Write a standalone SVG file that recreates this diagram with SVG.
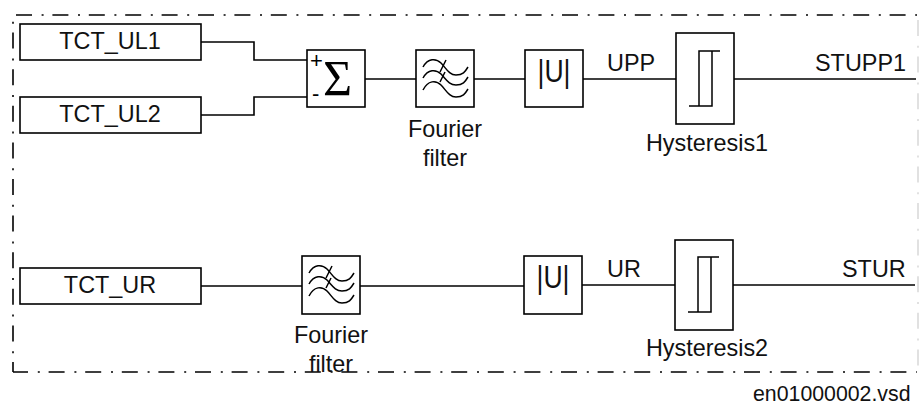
<svg xmlns="http://www.w3.org/2000/svg" width="919" height="406" viewBox="0 0 919 406">
<defs>
<style>
.b{fill:#fff;stroke:#000;stroke-width:1.6}
.w{fill:none;stroke:#000;stroke-width:1.6}
.g{fill:none;stroke:#000;stroke-width:1.5}
.d{fill:none;stroke:#000;stroke-width:1.6;stroke-dasharray:16 9.8 2 8.8}
text{font-family:"Liberation Sans",Arial,sans-serif;font-size:23.4px;fill:#111}
.m{text-anchor:middle}
</style>
<g id="filterGlyph">
<path class="g" d="M7 17C12 8 20 8 25 13S33 25 40 25S49 22 52 17"/>
<path class="g" d="M7 28C12 19 20 19 25 24S33 35 40 35S49 32 52 27"/>
<path class="g" d="M7 40C12 30 20 30 25 35S33 47 40 47S49 44 52 39"/>
<path class="g" d="M30 10L24 22M29 22L24 32"/>
</g>
<g id="hystGlyph">
<path class="g" d="M13 73H36V18M23 73V18H44"/>
</g>
</defs>
<g id="frame">
<path class="d" d="M16 15H917" style="stroke-dasharray:16 9.6 2 8.8"/>
<path class="d" d="M13 15V372" stroke-dashoffset="19"/>
<path class="d" d="M13 372H917" stroke-dashoffset="1"/>
<path d="M918 20V370" fill="none" stroke="#d8d8d8" stroke-width="1.5" stroke-dasharray="16 9.8 2 8.8"/>
</g>
<g id="connectors">
<path class="w" d="M201 42H254V60H307"/>
<path class="w" d="M201 115H254V97H307"/>
<path class="w" d="M365 79H416"/>
<path class="w" d="M474 79H525"/>
<path class="w" d="M583 79H676"/>
<path class="w" d="M734 79H916"/>
<path class="w" d="M201 286H302"/>
<path class="w" d="M360 286H524"/>
<path class="w" d="M582 285H675"/>
<path class="w" d="M733 285H915"/>
</g>
<g id="tct_ul1"><rect class="b" x="20" y="24" width="181" height="36"/><text class="m" x="110" y="49">TCT_UL1</text></g>
<g id="tct_ul2"><rect class="b" x="20" y="97" width="181" height="36"/><text class="m" x="110" y="122">TCT_UL2</text></g>
<g id="tct_ur"><rect class="b" x="20" y="268" width="181" height="36"/><text class="m" x="110" y="293">TCT_UR</text></g>
<g id="sum"><rect class="b" x="307" y="50" width="58" height="57"/>
<text x="310" y="68" style="font-size:22px;fill:#000">+</text>
<text x="312" y="101" style="font-size:22px;fill:#000">-</text>
<text x="323" y="95" style="font-family:'Liberation Serif',serif;font-size:50px;fill:#000">Σ</text></g>
<g id="filter1"><rect class="b" x="416" y="50" width="58" height="57"/><use href="#filterGlyph" x="416" y="50"/>
<text class="m" x="445" y="137">Fourier</text><text class="m" x="445" y="166">filter</text></g>
<g id="filter2"><rect class="b" x="302" y="256" width="58" height="58"/><use href="#filterGlyph" x="302" y="256"/>
<text class="m" x="331" y="343">Fourier</text><text class="m" x="331" y="372">filter</text></g>
<g id="abs1"><rect class="b" x="525" y="50" width="58" height="57"/><text class="m" x="554" y="82" style="font-size:32px" textLength="33" lengthAdjust="spacingAndGlyphs">|U|</text></g>
<g id="abs2"><rect class="b" x="524" y="256" width="58" height="58"/><text class="m" x="553" y="288" style="font-size:32px" textLength="33" lengthAdjust="spacingAndGlyphs">|U|</text></g>
<g id="hyst1"><rect class="b" x="676" y="33" width="58" height="91"/><use href="#hystGlyph" x="676" y="33"/>
<text class="m" x="707" y="151">Hysteresis1</text></g>
<g id="hyst2"><rect class="b" x="675" y="240" width="58" height="90"/><use href="#hystGlyph" x="675" y="239"/>
<text class="m" x="707" y="356">Hysteresis2</text></g>
<g id="labels">
<text x="607" y="71">UPP</text>
<text x="815" y="71">STUPP1</text>
<text x="607" y="277">UR</text>
<text x="842" y="277">STUR</text>
<text x="753" y="401" style="font-size:21.3px">en01000002.vsd</text>
</g>
</svg>
